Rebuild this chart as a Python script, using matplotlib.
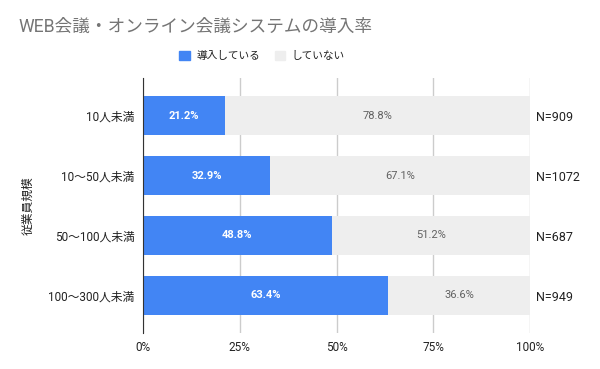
import numpy as np
import matplotlib.pyplot as plt
from matplotlib.patches import Patch

plt.rcParams['font.family'] = ['Roboto', 'Noto Sans CJK JP', 'DejaVu Sans']

categories = ['10人未満', '10〜50人未満', '50〜100人未満', '100〜300人未満']
adopted = [21.2, 32.9, 48.8, 63.4]
not_adopted = [78.8, 67.1, 51.2, 36.6]
sample_n = [909, 1072, 687, 949]

blue = '#4285F4'
grey = '#EEEEEE'

fig = plt.figure(figsize=(6, 3.69), dpi=100)
ax = fig.add_axes([143 / 600, 36 / 369, 387 / 600, 255 / 369])

y = np.arange(len(categories))
ax.barh(y, adopted, height=0.65, color=blue, zorder=2)
ax.barh(y, not_adopted, left=adopted, height=0.65, color=grey, zorder=2)

for i in range(len(categories)):
    ax.text(adopted[i] / 2, y[i], f'{adopted[i]:.1f}%', ha='center', va='center',
            color='white', fontsize=8, fontweight='bold', zorder=3)
    ax.text(adopted[i] + not_adopted[i] / 2, y[i], f'{not_adopted[i]:.1f}%',
            ha='center', va='center', color='#616161', fontsize=8, zorder=3)
    ax.text(101.5, y[i] + 0.03, f'N={sample_n[i]}', ha='left', va='center',
            color='#222222', fontsize=9, clip_on=False)

ax.set_xlim(0, 100)
ax.set_ylim(3.63, -0.63)
ax.set_yticks(y)
ax.set_yticklabels(categories, fontsize=8.5, color='#222222')
ax.set_xticks([0, 25, 50, 75, 100])
ax.set_xticklabels(['0%', '25%', '50%', '75%', '100%'], fontsize=8.5, color='#222222')
ax.tick_params(length=0, pad=6)
ax.xaxis.grid(True, color='#CCCCCC', linewidth=1, zorder=0)
ax.set_axisbelow(True)
for s in ['top', 'right', 'bottom']:
    ax.spines[s].set_visible(False)
ax.spines['left'].set_color('#333333')
ax.spines['left'].set_zorder(4)

ax.set_ylabel('従業員規模', fontsize=8.5, color='#222222', labelpad=10)

fig.text(18 / 600, 1 - 27 / 369, 'WEB会議・オンライン会議システムの導入率',
         fontsize=12.7, color='#757575', ha='left', va='center')

handles = [Patch(color=blue, label='導入している'), Patch(color=grey, label='していない')]
fig.legend(handles=handles, loc='center', bbox_to_anchor=(262 / 600, 1 - 56 / 369),
           ncol=2, frameon=False, fontsize=7.7, handlelength=1.0, handleheight=1.0,
           columnspacing=1.4, handletextpad=0.6, labelcolor='#222222')

fig.savefig('out.png', dpi=100)
